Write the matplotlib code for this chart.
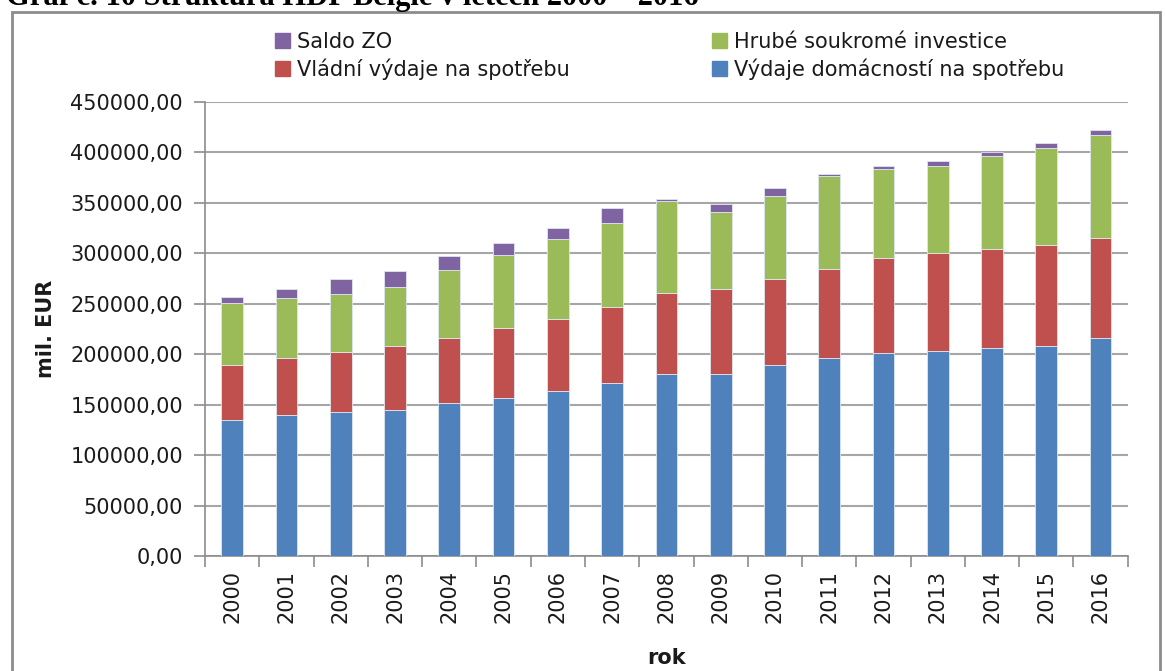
import matplotlib
matplotlib.use('Agg')
from matplotlib import pyplot as plt
from matplotlib.patches import Patch, Rectangle
import numpy as np

years = ['2000', '2001', '2002', '2003', '2004', '2005', '2006', '2007', '2008',
         '2009', '2010', '2011', '2012', '2013', '2014', '2015', '2016']
domacnosti = [135000, 139800, 142400, 145000, 151300, 156300, 163800, 171500, 180500,
              180400, 189300, 195900, 200900, 203500, 206200, 208500, 216400]
vladni = [54300, 56200, 59500, 63500, 64800, 70000, 71400, 75000, 80200,
          83900, 85300, 88900, 94200, 96500, 97800, 99500, 99100]
investice = [61200, 59400, 57500, 58400, 67400, 72400, 78700, 83900, 91200,
             76300, 82500, 91600, 88800, 86500, 92800, 96400, 101500]
saldo = [5900, 8900, 15200, 15300, 13900, 11200, 11500, 14200, 1700,
         8300, 7700, 2500, 2400, 5000, 3300, 5000, 5300]

colors = {'dom': '#4F81BD', 'vl': '#C0504D', 'inv': '#9BBB59', 'sal': '#8064A2'}
txt = '#1a1a1a'

fig = plt.figure(figsize=(11.65, 6.71), dpi=100)
ax = fig.add_axes([0.176, 0.1714, 0.792, 0.6766])

x = np.arange(len(years))
w = 0.4
b1 = np.array(domacnosti)
b2 = b1 + np.array(vladni)
b3 = b2 + np.array(investice)
kw = dict(width=w, edgecolor='#dfe6f0', linewidth=0.6, zorder=3)
ax.bar(x, domacnosti, color=colors['dom'], **kw)
ax.bar(x, vladni, bottom=b1, color=colors['vl'], **kw)
ax.bar(x, investice, bottom=b2, color=colors['inv'], **kw)
ax.bar(x, saldo, bottom=b3, color=colors['sal'], **kw)

ax.set_xlim(-0.5, len(years) - 0.5)
ax.set_ylim(0, 450000)
ax.set_yticks(np.arange(0, 450001, 50000))
ax.set_yticklabels(['%d,00' % v for v in range(0, 450001, 50000)], fontsize=15, color=txt)
ax.yaxis.grid(True, color='#a6a6a6', linewidth=1.5, zorder=0)
ax.set_axisbelow(True)

ax.set_xticks(x)
ax.set_xticklabels(years, rotation=90, fontsize=15, color=txt)
ax.tick_params(axis='x', length=0, pad=10)
ax.set_xticks(np.arange(-0.5, len(years), 1), minor=True)
ax.tick_params(axis='x', which='minor', length=8, color='#8c8c8c', width=1.2)
ax.tick_params(axis='y', length=8, color='#8c8c8c', width=1.2, pad=8)

for s in ['top', 'right']:
    ax.spines[s].set_visible(False)
for s in ['left', 'bottom']:
    ax.spines[s].set_color('#8c8c8c')
    ax.spines[s].set_linewidth(1.2)

ax.set_ylabel('mil. EUR', fontsize=15, fontweight='bold', labelpad=10, color=txt)
ax.set_xlabel('rok', fontsize=15, fontweight='bold', labelpad=18, color=txt)

# legend, two columns
h1 = [Patch(color=colors['sal']), Patch(color=colors['vl'])]
h2 = [Patch(color=colors['inv']), Patch(color=colors['dom'])]
lkw = dict(frameon=False, fontsize=15, handlelength=0.75, handleheight=0.75,
           handletextpad=0.3, labelspacing=0.3, loc='upper left', borderpad=0,
           labelcolor=txt)
fig.legend(h1, ['Saldo ZO', 'Vládní výdaje na spotřebu'],
           bbox_to_anchor=(0.227, 0.968), **lkw)
fig.legend(h2, ['Hrubé soukromé investice', 'Výdaje domácností na spotřebu'],
           bbox_to_anchor=(0.602, 0.968), **lkw)

# outer frame of the chart
fig.patches.append(Rectangle((12 / 1165, -0.05), 1148 / 1165, 1.05 - 12 / 671,
                             transform=fig.transFigure, fill=False,
                             edgecolor='#8c8c8c', linewidth=2))

fig.text(0.005, 1.003, 'Graf č. 10 Struktura HDP Belgie v letech 2000 – 2016',
         fontsize=22, fontweight='bold', family='Liberation Serif',
         va='center', ha='left')

plt.savefig('out.png', dpi=100)
plt.close('all')
